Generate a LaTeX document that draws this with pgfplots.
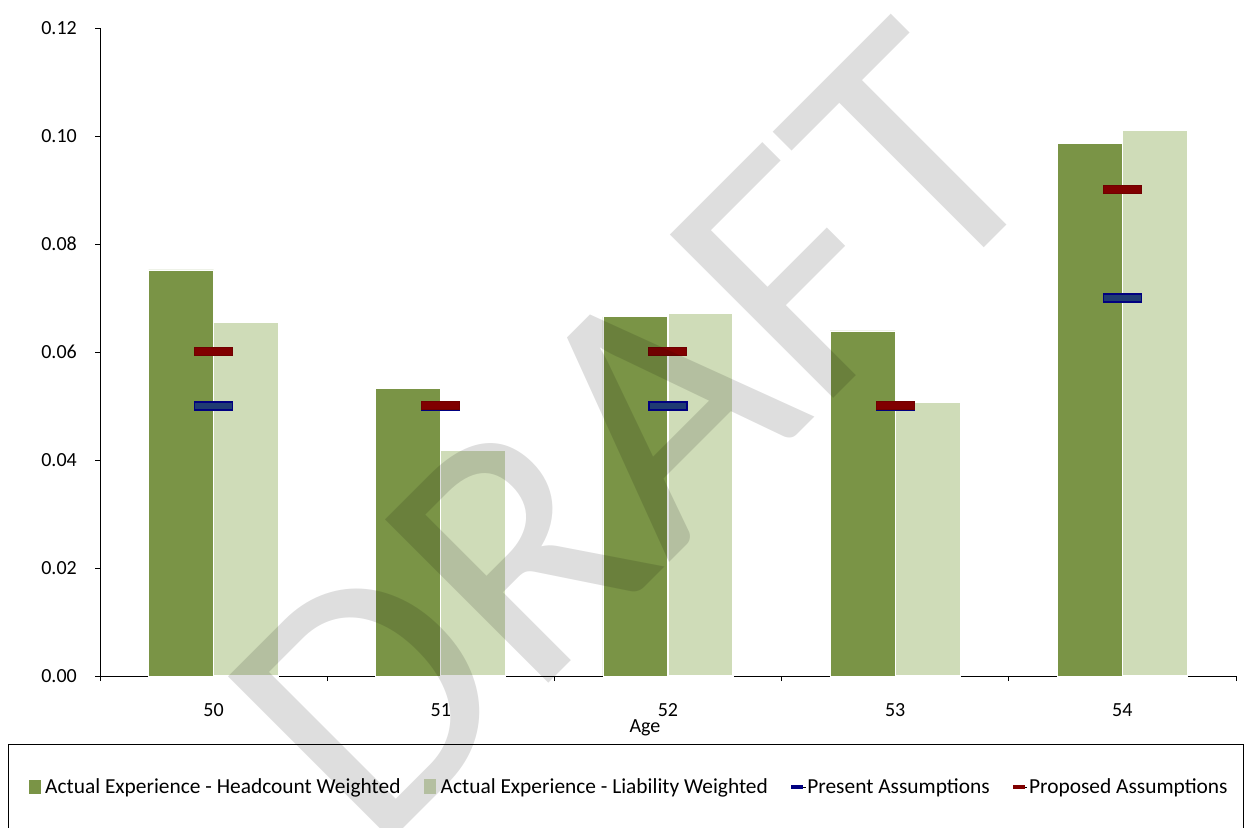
\documentclass[border=0pt]{standalone}
\usepackage{fontspec}
\setmainfont{Carlito}
\usepackage{pgfplots}
\usepackage{pgfplotstable}
\pgfplotsset{compat=1.18}

\definecolor{hcgreen}{HTML}{7A9446}
\definecolor{lwgreen}{HTML}{CFDCB8}
\definecolor{presfill}{HTML}{1F3B73}
\definecolor{presedge}{HTML}{000080}
\definecolor{propfill}{HTML}{800000}
\definecolor{propedge}{HTML}{700000}

% flat horizontal bar used for the assumption rates
\pgfdeclareplotmark{assumption}{%
  \pgfpathrectangle{\pgfpoint{-19pt}{-4pt}}{\pgfpoint{38pt}{8pt}}%
  \pgfusepathqfillstroke}

% x = category centre (ages 50..54), rates as decimals
\pgfplotstableread{
x    hc     lw     present proposed
0.5  0.0752 0.0654 0.05    0.06
1.5  0.0533 0.0417 0.05    0.05
2.5  0.0665 0.0672 0.05    0.06
3.5  0.0639 0.0507 0.05    0.05
4.5  0.0987 0.1011 0.07    0.09
}\agedata

\begin{document}
\begin{tikzpicture}
\useasboundingbox (0,0) rectangle (1249pt,827pt);
\begin{axis}[
  at={(100pt,151pt)}, anchor=south west,
  scale only axis, width=1136pt, height=648pt,
  xmin=0, xmax=5, ymin=0, ymax=0.12,
  axis x line*=bottom, axis y line*=left,
  axis line style={black, line width=0.9pt},
  xtick={0,1,2,3,4,5},
  xticklabels={50,51,52,53,54},
  x tick label as interval,
  ytick={0,0.02,0.04,0.06,0.08,0.1,0.12},
  /pgf/number format/fixed,
  /pgf/number format/fixed zerofill,
  /pgf/number format/precision=2,
  /pgf/number format/assume math mode=true,
  tick align=outside, major tick length=5pt,
  tick style={black, line width=0.9pt},
  tick label style={font=\fontsize{20}{24}\selectfont, text=black},
  yticklabel style={anchor=east, inner sep=0pt, xshift=-18pt},
  xticklabel style={anchor=north, inner sep=0pt, yshift=-22pt},
  xlabel={Age},
  xlabel style={at={(rel axis cs:0.4798,0)}, anchor=north, inner sep=0pt,
    yshift=-43pt, font=\fontsize{20}{24}\selectfont},
  legend columns=4,
  legend style={at={(0.4657,-0.1713)}, anchor=center, draw=none, fill=none,
    font=\fontsize{21.4}{25}\selectfont,
    nodes={inner sep=1.5pt},
    /tikz/every even column/.append style={column sep=22pt}},
]
\addplot[ybar, bar width=65pt, bar shift=-32.5pt, fill=hcgreen, draw=white,
  line width=0.8pt,
  legend image code/.code={\path (0pt,0pt) -- (14pt,0pt);
    \fill[hcgreen] (0pt,-6pt) rectangle (11pt,7pt);}]
  table[x=x, y=hc]{\agedata};
\addlegendentry{Actual Experience - Headcount Weighted}
\addplot[ybar, bar width=65pt, bar shift=32.5pt, fill=lwgreen, draw=white,
  line width=1.2pt,
  legend image code/.code={\path (0pt,0pt) -- (14pt,0pt);
    \fill[lwgreen] (0pt,-6pt) rectangle (11pt,7pt);}]
  table[x=x, y=lw]{\agedata};
\addlegendentry{Actual Experience - Liability Weighted}
\addplot[only marks, mark=assumption,
  mark options={fill=presfill, draw=presedge, line width=1.2pt},
  legend image code/.code={\path (0pt,0pt) -- (14pt,0pt);
    \fill[presedge] (0pt,-1.5pt) rectangle (11pt,1.5pt);}]
  table[x=x, y=present]{\agedata};
\addlegendentry{Present Assumptions}
\addplot[only marks, mark=assumption,
  mark options={fill=propfill, draw=propedge, line width=1pt},
  legend image code/.code={\path (0pt,0pt) -- (14pt,0pt);
    \fill[propfill] (0pt,-1.5pt) rectangle (11pt,1.5pt);}]
  table[x=x, y=proposed]{\agedata};
\addlegendentry{Proposed Assumptions}
\end{axis}
% legend frame
\draw[black, line width=1pt] (8pt,-5pt) rectangle (1243.5pt,82.5pt);
% watermark
\node[rotate=45, anchor=base west, inner sep=0pt, text=black, text opacity=0.13,
  font=\fontsize{360}{360}\selectfont] at (374pt,-31pt) {DRAFT};
\end{tikzpicture}
\end{document}
